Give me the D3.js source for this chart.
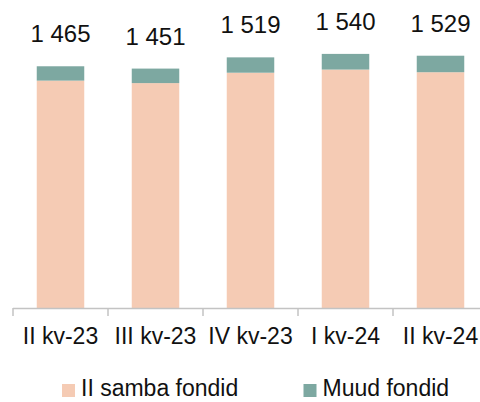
<!DOCTYPE html>
<html>
<head>
<meta charset="utf-8">
<script src="https://cdn.jsdelivr.net/npm/d3@7"></script>
<style>
  body { margin: 0; background: #fff; }
  svg text { font-family: "Liberation Sans", Arial, sans-serif; fill: #111; }
</style>
</head>
<body>
<svg id="chart" width="480" height="402"></svg>
<script>
var categories = ['II kv-23', 'III kv-23', 'IV kv-23', 'I kv-24', 'II kv-24']
var sambaFondid = [1378, 1363, 1426, 1445, 1429]
var muudFondid = [87, 88, 93, 95, 100]
var totals = [1465, 1451, 1519, 1540, 1529]
var seriesNames = ['II samba fondid', 'Muud fondid']
var colors = ['#f5cbb4', '#7da8a1']

var svg = d3.select('#chart')

var x = d3.scaleBand().domain(categories).range([13, 488]).paddingInner(0.5).paddingOuter(0.25)
var y = d3.scaleLinear().domain([0, 1800]).range([308, 11])

/** stacked bars */
var rows = categories.map(function (c, i) {
  return { cat: c, samba: sambaFondid[i], muud: muudFondid[i] }
})
var stack = d3.stack().keys(['samba', 'muud'])(rows)

svg.selectAll('g.series').data(stack).enter().append('g')
  .attr('class', 'series')
  .attr('fill', function (d, i) { return colors[i] })
  .selectAll('rect').data(function (d) { return d }).enter().append('rect')
  .attr('x', function (d) { return x(d.data.cat) })
  .attr('width', x.bandwidth())
  .attr('y', function (d) { return y(d[1]) })
  .attr('height', function (d) { return y(d[0]) - y(d[1]) })

/** total labels */
svg.selectAll('text.total').data(totals).enter().append('text')
  .attr('class', 'total')
  .attr('x', function (d, i) { return x(categories[i]) + x.bandwidth() / 2 })
  .attr('y', function (d) { return y(d) - 24 })
  .attr('text-anchor', 'middle')
  .style('font-size', '24px')
  .text(function (d) { return d3.format(',')(d).replace(',', ' ') })

/** axis line with ticks between categories */
var axis = svg.append('g').attr('stroke', '#c3c3c3').attr('stroke-width', 1.5)
axis.append('line').attr('x1', x.range()[0]).attr('x2', 480).attr('y1', 308.5).attr('y2', 308.5)
d3.range(categories.length + 1).forEach(function (i) {
  var tx = x.range()[0] + i * x.step()
  axis.append('line').attr('x1', tx).attr('x2', tx).attr('y1', 308).attr('y2', 316)
})

svg.selectAll('text.cat').data(categories).enter().append('text')
  .attr('class', 'cat')
  .attr('x', function (d) { return x(d) + x.bandwidth() / 2 })
  .attr('y', 344)
  .attr('text-anchor', 'middle')
  .style('font-size', '23px')
  .text(function (d) { return d })

/** legend */
var legendX = [62, 303.5]
var legend = svg.selectAll('g.legend').data(seriesNames).enter().append('g')
  .attr('class', 'legend')
  .attr('transform', function (d, i) { return 'translate(' + legendX[i] + ',384)' })
legend.append('rect').attr('width', 13).attr('height', 13).attr('fill', function (d, i) { return colors[i] })
legend.append('text').attr('x', 19).attr('y', 12).style('font-size', '23px').text(function (d) { return d })
</script>
</body>
</html>
